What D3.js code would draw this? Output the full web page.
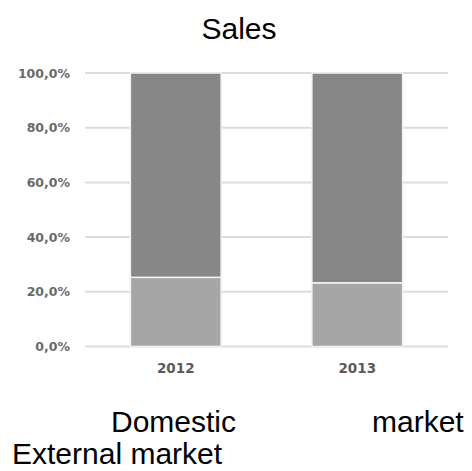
<!DOCTYPE html>
<html>
<head>
<meta charset="utf-8">
<script src="https://cdn.jsdelivr.net/npm/d3@7"></script>
<style>
  html, body { margin: 0; padding: 0; background: #fff; }
  svg { display: block; }
</style>
</head>
<body>
<svg id="chart" width="472" height="471"></svg>
<script>
const categories = ["2012", "2013"];
const seriesNames = ["Domestic market", "External market"];
const externalShare = [25.3, 23.3];
const domesticShare = [74.7, 76.7];
const yTicks = [0, 20, 40, 60, 80, 100];
const yTickLabels = ["0,0%", "20,0%", "40,0%", "60,0%", "80,0%", "100,0%"];
const title = "Sales";

const svg = d3.select("#chart");
const x = d3.scaleBand().domain(categories).range([85, 448]).paddingInner(0.5).paddingOuter(0.25);
const y = d3.scaleLinear().domain([0, 100]).range([346.5, 73]);

// gridlines
svg.append("g").selectAll("line").data(yTicks).join("line")
  .attr("x1", 85).attr("x2", 448)
  .attr("y1", d => y(d)).attr("y2", d => y(d))
  .attr("stroke", "#dcdcdc").attr("stroke-width", 2);

// y axis labels
const yAxis = d3.axisLeft(y).tickValues(yTicks)
  .tickFormat((d, i) => yTickLabels[i]).tickSize(0).tickPadding(0);
const gy = svg.append("g").attr("transform", "translate(70,0)").call(yAxis);
gy.select(".domain").remove();
gy.selectAll("text").attr("font-family", "DejaVu Sans, Verdana, sans-serif")
  .attr("font-size", 12.5).attr("font-weight", "bold").attr("fill", "#6a6a6a");

// stacked data
const rows = categories.map((c, i) => ({cat: c, ext: externalShare[i], dom: domesticShare[i]}));
const stack = d3.stack().keys(["ext", "dom"])(rows);
const colors = {ext: "#a6a6a6", dom: "#878787"};

svg.append("g").selectAll("g").data(stack).join("g")
  .attr("fill", d => colors[d.key])
  .selectAll("rect").data(d => d).join("rect")
  .attr("x", d => x(d.data.cat))
  .attr("width", x.bandwidth())
  .attr("y", d => y(d[1]))
  .attr("height", d => y(d[0]) - y(d[1]))
  .attr("stroke", "#f2f2f2").attr("stroke-width", 1.5);

// x axis labels
const xAxis = d3.axisBottom(x).tickSize(0).tickPadding(0);
const gx = svg.append("g").attr("transform", "translate(0,363)").call(xAxis);
gx.select(".domain").remove();
gx.selectAll("text").attr("font-family", "DejaVu Sans, Verdana, sans-serif")
  .attr("font-size", 13.5).attr("font-weight", "bold").attr("fill", "#5a5a5a");

// title
svg.append("text").attr("x", 239).attr("y", 39).attr("text-anchor", "middle")
  .attr("font-family", "Liberation Sans, Arial, sans-serif").attr("font-size", 30)
  .attr("fill", "#000").text(title);

// legend (justified text as in reference)
const legFont = "Liberation Sans, Arial, sans-serif";
const words1 = seriesNames[0].split(" ");
svg.append("text").attr("x", 111).attr("y", 432).attr("font-family", legFont)
  .attr("font-size", 30).text(words1[0]);
svg.append("text").attr("x", 372).attr("y", 432).attr("font-family", legFont)
  .attr("font-size", 30).text(words1[1]);
svg.append("text").attr("x", 12).attr("y", 464).attr("font-family", legFont)
  .attr("font-size", 30).text(seriesNames[1]);
</script>
</body>
</html>
